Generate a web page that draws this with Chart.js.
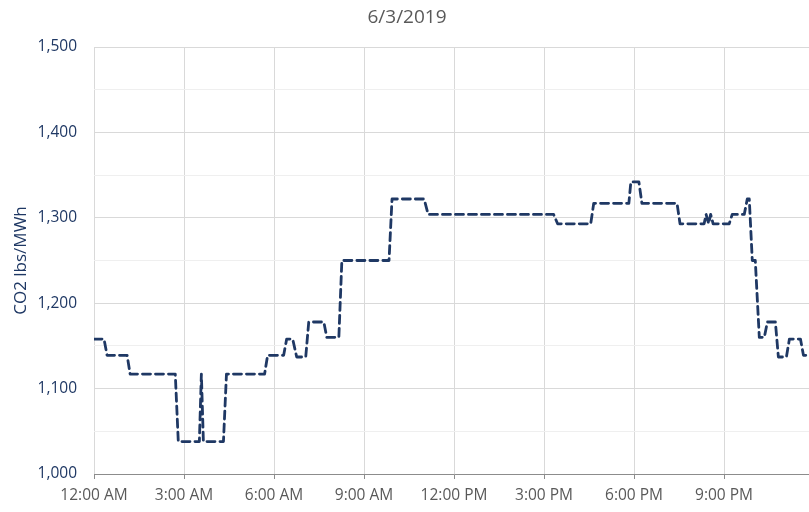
<!DOCTYPE html>
<html>
<head>
<meta charset="utf-8">
<script src="https://cdn.jsdelivr.net/npm/chart.js@4/dist/chart.umd.min.js"></script>
<style>
  html, body { margin: 0; padding: 0; background: #fff; overflow: hidden; }
  #wrap { width: 809px; height: 512px; overflow: hidden; }
  #box { width: 854px; height: 512px; }
</style>
</head>
<body>
<div id="wrap"><div id="box"><canvas id="chart"></canvas></div></div>
<script>
const chartTitle = "6/3/2019";
const yTitle = "CO2 lbs/MWh";

// time of day where the intensity changes, with the value at that time
const times = [
  "0:00", "0:20", "0:26", "1:06", "1:12", "2:42", "2:48", "3:30", "3:34", "3:38",
  "4:18", "4:24", "5:40", "5:46", "6:18", "6:24", "6:36", "6:44", "7:02", "7:08",
  "7:38", "7:44", "8:08", "8:14", "9:48", "9:54", "10:58", "11:06", "15:16", "15:24",
  "16:30", "16:36", "17:46", "17:50", "18:06", "18:12", "19:22", "19:28", "20:16", "20:20",
  "20:25", "20:29", "20:34", "21:06", "21:12", "21:36", "21:42", "21:46", "21:52", "21:58",
  "22:06", "22:16", "22:22", "22:38", "22:44", "23:00", "23:06", "23:28", "23:34", "23:55"
];
const co2 = [
  1158, 1158, 1139, 1139, 1117, 1117, 1038, 1038, 1117, 1038,
  1038, 1117, 1117, 1139, 1139, 1158, 1158, 1137, 1137, 1178,
  1178, 1160, 1160, 1250, 1250, 1322, 1322, 1304, 1304, 1293,
  1293, 1317, 1317, 1342, 1342, 1317, 1317, 1293, 1293, 1304,
  1293, 1304, 1293, 1293, 1304, 1304, 1322, 1322, 1250, 1250,
  1160, 1160, 1178, 1178, 1137, 1137, 1158, 1158, 1139, 1139
];

const xTickLabels = ["12:00 AM", "3:00 AM", "6:00 AM", "9:00 AM", "12:00 PM", "3:00 PM", "6:00 PM", "9:00 PM"];
const yMin = 1000, yMax = 1500;

const toMinutes = t => {
  const [h, m] = t.split(":").map(Number);
  return h * 60 + m;
};

const points = times.map((t, i) => ({ x: toMinutes(t), y: co2[i] }));

const navy = "#1f3864";
const gray = "#595959";

new Chart(document.getElementById("chart"), {
  type: "line",
  data: {
    datasets: [{
      label: yTitle,
      data: points,
      borderColor: navy,
      borderWidth: 2.8,
      borderDash: [8, 5],
      borderCapStyle: "round",
      borderJoinStyle: "round",
      pointRadius: 0,
      tension: 0,
      fill: false
    }]
  },
  options: {
    responsive: true,
    maintainAspectRatio: false,
    animation: false,
    layout: { padding: { left: 0, right: 40, top: 0, bottom: 0 } },
    plugins: {
      legend: { display: false },
      tooltip: { enabled: false },
      title: {
        display: true,
        text: chartTitle,
        color: gray,
        font: { family: "Open Sans", size: 19, weight: "normal" },
        padding: { top: 6, bottom: 18.2 }
      }
    },
    scales: {
      x: {
        type: "linear",
        min: 0,
        max: 1435,
        afterFit: s => { s.height = 38; },
        border: { display: true, color: "#8c8c8c", width: 1 },
        grid: {
          color: "#d9d9d9",
          tickColor: "#8c8c8c",
          tickLength: 5,
          drawTicks: true
        },
        ticks: {
          stepSize: 180,
          includeBounds: false,
          autoSkip: false,
          maxRotation: 0,
          padding: 7,
          color: gray,
          font: { family: "Open Sans", size: 15.5 },
          callback: v => xTickLabels[Math.round(v / 180)] ?? ""
        }
      },
      y: {
        min: yMin,
        max: yMax,
        afterFit: s => { s.width = 94; },
        border: { display: false },
        grid: {
          color: ctx => (ctx.tick && ctx.tick.value % 100 === 0) ? "#d9d9d9" : "#efefef",
          drawTicks: false
        },
        ticks: {
          stepSize: 50,
          padding: 17,
          color: navy,
          font: { family: "Open Sans", size: 15.5 },
          callback: v => v % 100 === 0 ? v.toLocaleString("en-US") : ""
        },
        title: {
          display: true,
          text: yTitle,
          color: navy,
          font: { family: "Open Sans", size: 17 },
          padding: { top: 11, bottom: 0 }
        }
      }
    }
  }
});
</script>
</body>
</html>
